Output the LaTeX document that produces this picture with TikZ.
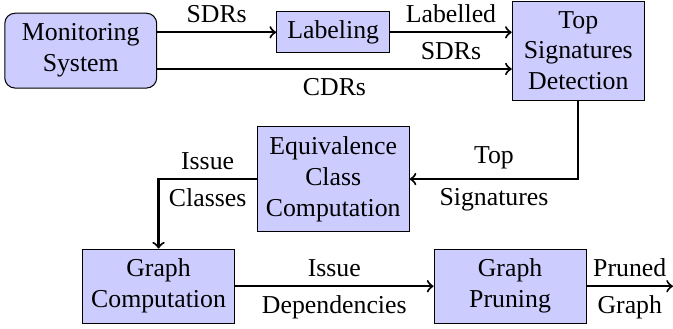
\documentclass[tikz,border=0pt]{standalone}
\usepackage{fontspec}
\setmainfont{Liberation Serif}
\begin{document}
\begin{tikzpicture}[block/.style={draw, fill=blue!20, align=center}, flow/.style={->, thick}]
        \useasboundingbox (0,0) rectangle (9.17,-4.47);

        \draw (1.10,-0.69) node[block, rounded corners, minimum width=2.07cm, minimum height=1.02cm] (MS) {Monitoring\\System};
        \draw (4.54,-0.44) node[block, minimum width=1.54cm, minimum height=0.56cm] (Lab) {Labeling};
        \draw (7.88,-0.69) node[block, minimum width=1.80cm, minimum height=1.35cm] (TSD) {Top\\Signatures\\Detection};
        \draw (4.54,-2.44) node[block, minimum width=2.06cm, minimum height=1.44cm] (EQ) {Equivalence\\Class\\Computation};
        \draw (2.16,-3.90) node[block, minimum width=2.06cm, minimum height=1.01cm] (GC) {Graph\\Computation};
        \draw (6.95,-3.90) node[block, minimum width=2.07cm, minimum height=1.01cm] (GP) {Graph\\Pruning};
        \coordinate (out) at (9.17,-3.90);

        \draw[flow] (MS.east |- Lab) -- (Lab) node[midway, above] {SDRs};
        \draw[flow] (Lab) -- (Lab -| TSD.west) node[midway, above] {Labelled} node[midway, below] {SDRs};
        \draw[flow] ([yshift=-0.25cm]MS.east) -- ([yshift=-0.25cm]TSD.west) node[midway, below] {CDRs};
        \draw[flow] (TSD) |- (EQ) node[pos=0.75, above] {Top} node[pos=0.75, below] {Signatures};
        \draw[flow] (EQ) -| (GC) node[pos=0.25, above] {Issue} node[pos=0.25, below] {Classes};
        \draw[flow] (GC) -- (GP) node[midway, above] {Issue} node[midway, below] {Dependencies};
        \draw[flow] (GP) -- (out) node[midway, above] {Pruned} node[midway, below] {Graph};
    \end{tikzpicture}
\end{document}
